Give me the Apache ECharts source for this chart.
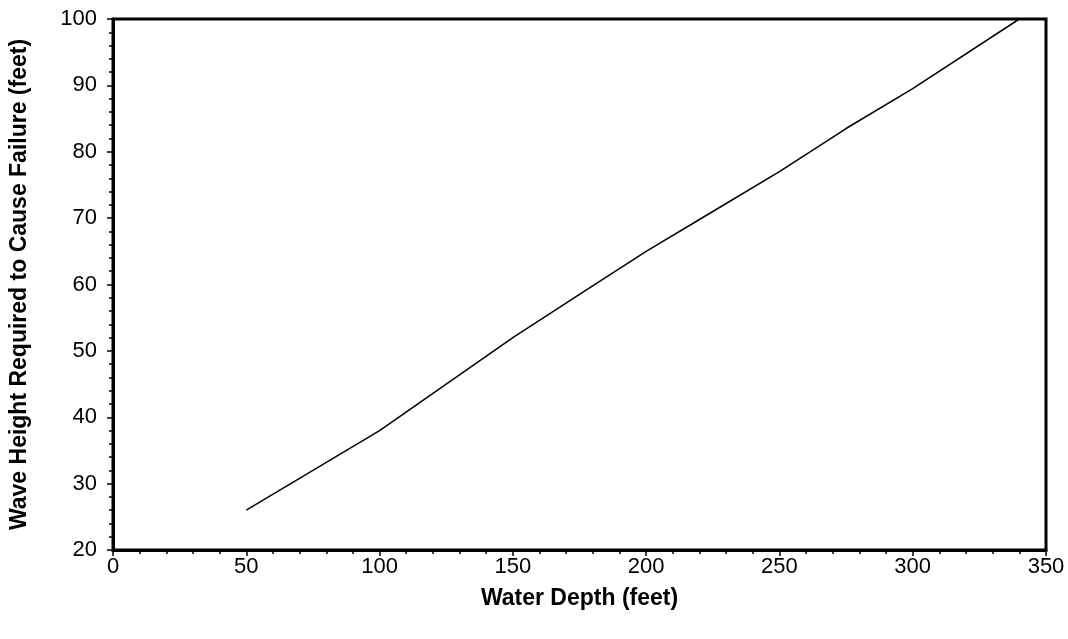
<!DOCTYPE html>
<html><head><meta charset="utf-8">
<script src="https://cdn.jsdelivr.net/npm/echarts@6/dist/echarts.min.js"></script>
<style>html,body{margin:0;padding:0;background:#fff}#c{width:1068px;height:639px}</style>
</head><body><div id="c"></div>
<script>
const depths = [50, 75, 100, 125, 150, 175, 200, 225, 250, 275, 300, 340];
const waveHeights = [26, 32, 38, 45, 52, 58.5, 65, 71, 77, 83.5, 89.5, 100];
const xTitle = 'Water Depth (feet)';
const yTitle = 'Wave Height Required to Cause Failure (feet)';

const chart = echarts.init(document.getElementById('c'));
const font = 'Liberation Sans, Arial, sans-serif';
chart.setOption({
  animation: false,
  grid: {left: 113, right: 22, top: 19, bottom: 89, outerBoundsMode: 'none', containLabel: false,
         show: true, borderColor: '#000', borderWidth: 3, backgroundColor: '#fff'},
  xAxis: {
    type: 'value', min: 0, max: 350, interval: 50,
    name: xTitle, nameLocation: 'middle', nameGap: 37,
    nameTextStyle: {fontFamily: font, fontSize: 23, fontWeight: 'bold', color: '#000'},
    axisLine: {show: true, lineStyle: {color: '#000', width: 3}},
    axisTick: {show: true, length: 6, lineStyle: {color: '#000', width: 1.5}},
    minorTick: {show: true, splitNumber: 5, length: 4, lineStyle: {color: '#000', width: 1.5}},
    splitLine: {show: false},
    axisLabel: {fontFamily: font, fontSize: 22, color: '#000', margin: 6}
  },
  yAxis: {
    type: 'value', min: 20, max: 100, interval: 10,
    name: yTitle, nameLocation: 'middle', nameGap: 82, nameRotate: 90,
    nameTextStyle: {fontFamily: font, fontSize: 23, fontWeight: 'bold', color: '#000'},
    axisLine: {show: true, lineStyle: {color: '#000', width: 3}},
    axisTick: {show: true, length: 6, lineStyle: {color: '#000', width: 1.5}},
    minorTick: {show: true, splitNumber: 5, length: 4, lineStyle: {color: '#000', width: 1.5}},
    splitLine: {show: false},
    axisLabel: {fontFamily: font, fontSize: 22, color: '#000', margin: 16}
  },
  series: [{
    type: 'line', data: depths.map((d, i) => [d, waveHeights[i]]),
    showSymbol: false, symbol: 'none',
    lineStyle: {color: '#000', width: 1.5}
  }]
});
</script></body></html>
